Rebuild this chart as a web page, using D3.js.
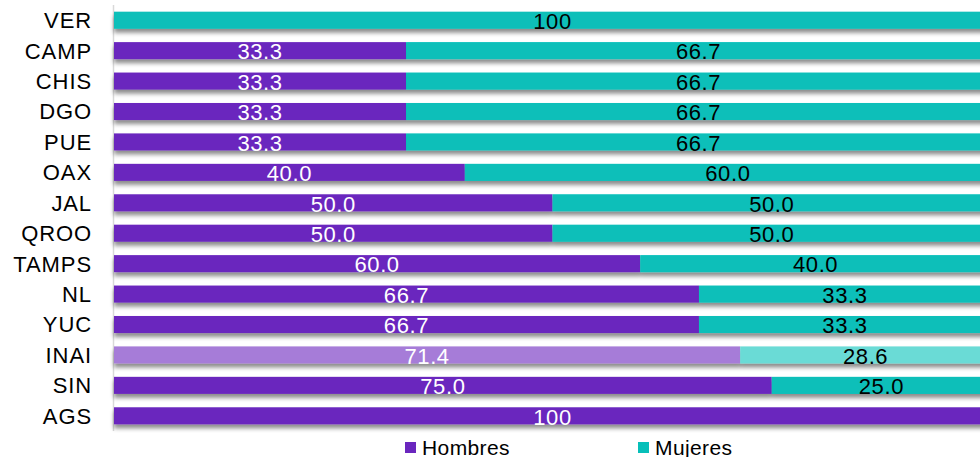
<!DOCTYPE html>
<meta charset="utf-8">
<head>
  <title>Hombres y Mujeres</title>
  <script src="https://d3js.org/d3.v7.min.js"></script>
  <style>
    body { margin: 0; background: #fff; font-family: "Liberation Sans", Arial, sans-serif; }
  </style>
</head>
<body>
<div id="my_dataviz"></div>
<script>

// data
var categories = ["VER", "CAMP", "CHIS", "DGO", "PUE", "OAX", "JAL", "QROO", "TAMPS", "NL", "YUC", "INAI", "SIN", "AGS"];
var hombres = [0, 33.3, 33.3, 33.3, 33.3, 40.0, 50.0, 50.0, 60.0, 66.7, 66.7, 71.4, 75.0, 100];
var mujeres = [100, 66.7, 66.7, 66.7, 66.7, 60.0, 50.0, 50.0, 40.0, 33.3, 33.3, 28.6, 25.0, 0];
var seriesNames = ["Hombres", "Mujeres"];
var highlight = "INAI";

var width = 980, height = 457;

var colors = {
  Hombres: "#6A26BE", Mujeres: "#07BFB9",
  HombresLight: "#A67BD8", MujeresLight: "#6BDBD6"
};

var svg = d3.select("#my_dataviz")
  .append("svg")
  .attr("width", width)
  .attr("height", height);

// shadow under bars
var defs = svg.append("defs");
var f = defs.append("filter").attr("id", "shadow")
  .attr("x", "-5%").attr("y", "-20%").attr("width", "110%").attr("height", "180%");
f.append("feDropShadow")
  .attr("dx", 0).attr("dy", 4).attr("stdDeviation", 2)
  .attr("flood-color", "#000").attr("flood-opacity", 0.45);

var x = d3.scaleLinear().domain([0, 100]).range([114, 991]);
var y = d3.scaleBand().domain(categories).range([5, 431]).paddingInner(0.44).paddingOuter(0.22);

// axis line
svg.append("line")
  .attr("x1", 113.5).attr("x2", 113.5)
  .attr("y1", 5).attr("y2", 431)
  .attr("stroke", "#d9d9d9").attr("stroke-width", 1.5);

// category labels
svg.append("g").selectAll("text")
  .data(categories)
  .join("text")
  .attr("x", 92)
  .attr("y", function(d) { return y(d) + y.bandwidth() / 2; })
  .attr("dy", "0.36em")
  .attr("text-anchor", "end")
  .style("font-size", "22px")
  .style("letter-spacing", "0.9px")
  .style("fill", "#000")
  .text(function(d) { return d; });

var rows = categories.map(function(c, i) { return { cat: c, h: hombres[i], m: mujeres[i] }; });

var bars = svg.append("g").selectAll("g")
  .data(rows)
  .join("g")
  .attr("filter", "url(#shadow)");

bars.append("rect")
  .attr("x", x(0))
  .attr("y", function(d) { return y(d.cat); })
  .attr("width", function(d) { return x(d.h) - x(0); })
  .attr("height", y.bandwidth())
  .attr("fill", function(d) { return d.cat == highlight ? colors.HombresLight : colors.Hombres; });

bars.append("rect")
  .attr("x", function(d) { return x(d.h); })
  .attr("y", function(d) { return y(d.cat); })
  .attr("width", function(d) { return x(d.h + d.m) - x(d.h); })
  .attr("height", y.bandwidth())
  .attr("fill", function(d) { return d.cat == highlight ? colors.MujeresLight : colors.Mujeres; });

function fmt(v) { return v == 100 ? "100" : v.toFixed(1); }

// value labels
var lbl = svg.append("g");
lbl.selectAll("text.h")
  .data(rows.filter(function(d) { return d.h > 0; }))
  .join("text")
  .attr("class", "h")
  .attr("x", function(d) { return (x(0) + x(d.h)) / 2; })
  .attr("y", function(d) { return y(d.cat) + y.bandwidth() / 2; })
  .attr("dy", "0.4em")
  .attr("text-anchor", "middle")
  .style("font-size", "22px")
  .style("letter-spacing", "0.6px")
  .style("fill", "#fff")
  .text(function(d) { return fmt(d.h); });

lbl.selectAll("text.m")
  .data(rows.filter(function(d) { return d.m > 0; }))
  .join("text")
  .attr("class", "m")
  .attr("x", function(d) { return (x(d.h) + x(d.h + d.m)) / 2; })
  .attr("y", function(d) { return y(d.cat) + y.bandwidth() / 2; })
  .attr("dy", "0.4em")
  .attr("text-anchor", "middle")
  .style("font-size", "22px")
  .style("letter-spacing", "0.6px")
  .style("fill", "#000")
  .text(function(d) { return fmt(d.m); });

// legend
var legendX = [405, 638];
var legend = svg.append("g").selectAll("g")
  .data(seriesNames)
  .join("g")
  .attr("transform", function(d, i) { return "translate(" + legendX[i] + ",442)"; });
legend.append("rect")
  .attr("width", 11).attr("height", 11)
  .attr("fill", function(d) { return colors[d]; });
legend.append("text")
  .attr("x", 17).attr("y", 5)
  .attr("dy", "0.36em")
  .style("font-size", "21px")
  .style("letter-spacing", "0.4px")
  .text(function(d) { return d; });

</script>
</body>
</html>
